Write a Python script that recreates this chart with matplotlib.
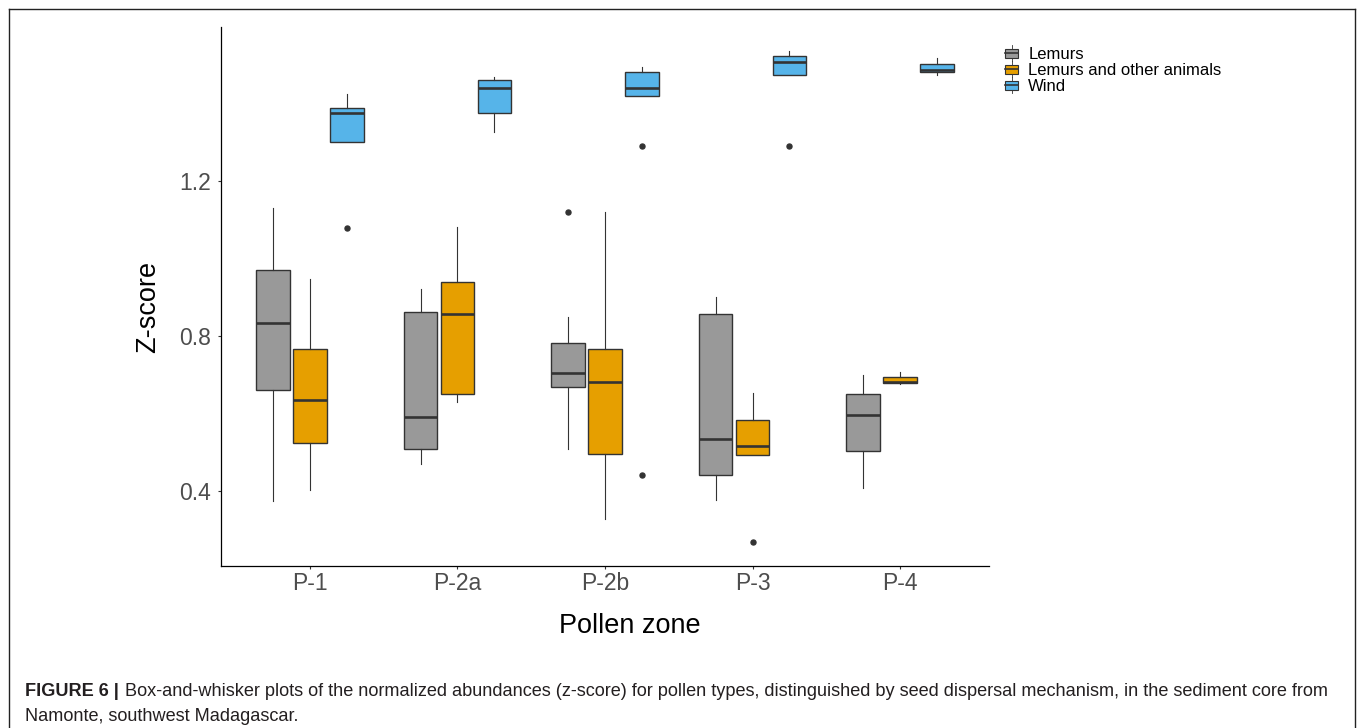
import matplotlib
matplotlib.use('Agg')
import matplotlib.pyplot as plt
from matplotlib.lines import Line2D
from matplotlib.patches import Rectangle
from matplotlib.legend_handler import HandlerBase

plt.rcParams['font.family'] = ['Liberation Sans', 'DejaVu Sans']

# ---- data ---------------------------------------------------------------
zones = ['P-1', 'P-2a', 'P-2b', 'P-3', 'P-4']
groups = ['Lemurs', 'Lemurs and other animals', 'Wind']
colors = ['#999999', '#E69F00', '#56B4E9']

# per zone: whisker low, Q1, median, Q3, whisker high
lemurs_stats = [
    [0.373, 0.660, 0.834, 0.969, 1.131],
    [0.469, 0.508, 0.590, 0.862, 0.921],
    [0.508, 0.667, 0.705, 0.783, 0.850],
    [0.378, 0.440, 0.535, 0.857, 0.900],
    [0.408, 0.503, 0.597, 0.649, 0.700],
]
mixed_stats = [
    [0.403, 0.525, 0.636, 0.766, 0.946],
    [0.630, 0.650, 0.856, 0.939, 1.081],
    [0.328, 0.495, 0.682, 0.766, 1.121],
    [0.494, 0.494, 0.515, 0.584, 0.654],
    [0.676, 0.679, 0.682, 0.695, 0.707],
]
wind_stats = [
    [1.301, 1.301, 1.376, 1.388, 1.424],
    [1.325, 1.376, 1.440, 1.459, 1.468],
    [1.419, 1.419, 1.440, 1.482, 1.494],
    [1.473, 1.473, 1.506, 1.522, 1.535],
    [1.474, 1.480, 1.486, 1.501, 1.517],
]
lemurs_out = [[], [], [1.120], [], []]
mixed_out = [[], [], [], [0.269], []]
wind_out = [[1.079], [], [1.291, 0.442], [1.289], []]

W, H = 1363, 728
fig = plt.figure(figsize=(W / 100, H / 100), dpi=100)
ax = fig.add_axes([221 / W, 162 / H, 768 / W, 539 / H])

edge = '#333333'
for gi, (stats, outs, col) in enumerate(zip([lemurs_stats, mixed_stats, wind_stats],
                                             [lemurs_out, mixed_out, wind_out], colors)):
    bstats = [dict(whislo=s[0], q1=s[1], med=s[2], q3=s[3], whishi=s[4], fliers=o)
              for s, o in zip(stats, outs)]
    pos = [i + (gi - 1) * 0.25 for i in range(len(zones))]
    ax.bxp(bstats, positions=pos, widths=0.226, patch_artist=True, showcaps=False,
           boxprops=dict(facecolor=col, edgecolor=edge, linewidth=1.0),
           medianprops=dict(color=edge, linewidth=1.9),
           whiskerprops=dict(color=edge, linewidth=0.8),
           flierprops=dict(marker='o', markerfacecolor=edge, markeredgecolor=edge,
                           markersize=3.6, linestyle='none'))

ax.set_xlim(-0.603, 4.603)
ax.set_ylim(0.2065, 1.597)
ax.set_xticks(range(len(zones)))
ax.set_xticklabels(zones)
ax.set_yticks([0.4, 0.8, 1.2])
ax.set_yticklabels(['0.4', '0.8', '1.2'])
for s in ['top', 'right']:
    ax.spines[s].set_visible(False)
for s in ['left', 'bottom']:
    ax.spines[s].set_color('black')
    ax.spines[s].set_linewidth(0.9)
ax.tick_params(length=2.5, width=0.8, color=edge, labelcolor='#4D4D4D', labelsize=16.5)
ax.tick_params(axis='y', pad=5)
ax.tick_params(axis='x', pad=1.5)

ax.set_xlabel('Pollen zone', fontsize=19.5, va='center')
ax.xaxis.set_label_coords((630 - 221) / 768, (728 - 626 - 162) / 539)
ax.set_ylabel('Z-score', fontsize=19.5, va='center')
ax.yaxis.set_label_coords((148 - 221) / 768, (728 - 307 - 162) / 539)


class BoxKey(HandlerBase):
    def create_artists(self, legend, orig_handle, xdescent, ydescent, width, height,
                       fontsize, trans):
        x0 = -xdescent
        y0 = -ydescent
        cx = x0 + width / 2
        r = Rectangle((x0, y0 + 0.1 * height), width, 0.8 * height,
                      facecolor=orig_handle.get_facecolor(), edgecolor=edge,
                      linewidth=0.8, transform=trans)
        med = Line2D([x0, x0 + width], [y0 + height / 2] * 2, color=edge, lw=1.2,
                     transform=trans)
        w1 = Line2D([cx, cx], [y0 - 0.2 * height, y0 + 0.1 * height], color=edge,
                    lw=0.6, transform=trans)
        w2 = Line2D([cx, cx], [y0 + 0.9 * height, y0 + 1.2 * height], color=edge,
                    lw=0.6, transform=trans)
        return [w1, w2, r, med]


handles = [Rectangle((0, 0), 1, 1, facecolor=c) for c in colors]
fig.legend(handles, groups, handler_map={Rectangle: BoxKey()},
           loc='upper left', bbox_to_anchor=(1005 / W, 1 - 47 / H),
           frameon=False, fontsize=12, borderpad=0, borderaxespad=0,
           handlelength=0.8, handleheight=0.7, handletextpad=0.6,
           labelspacing=0.06)

# ---- caption -------------------------------------------------------------
cap_color = '#231F20'
t1 = fig.text(25 / W, 1 - 696 / H, 'FIGURE 6 |', weight='bold', fontsize=11,
              color=cap_color, va='baseline')
t2 = fig.text(0, 1 - 696 / H,
              'Box-and-whisker plots of the normalized abundances (z-score) for pollen types, '
              'distinguished by seed dispersal mechanism, in the sediment core from',
              fontsize=11, color=cap_color, va='baseline')
t3 = fig.text(25 / W, 1 - 721 / H, 'Namonte, southwest Madagascar.', fontsize=11,
              color=cap_color, va='baseline')

r = fig.canvas.get_renderer()
gap = 5
total = t1.get_window_extent(r).width + gap + t2.get_window_extent(r).width
scale = (1325 - 25) / total
for t in (t1, t2, t3):
    t.set_fontsize(11 * scale)
fig.canvas.draw()
b1 = t1.get_window_extent(r)
t2.set_x((b1.x1 + gap * scale) / W)

# outer frame
for xs, ys in [([8.5, 1355], [H - 8.5, H - 8.5]), ([8.5, 8.5], [H - 8.5, -5]),
               ([1355, 1355], [H - 8.5, -5])]:
    fig.add_artist(Line2D([x / W for x in xs], [y / H for y in ys], color='#222222',
                          lw=1.0, transform=fig.transFigure))

fig.savefig('out.png', dpi=100)
